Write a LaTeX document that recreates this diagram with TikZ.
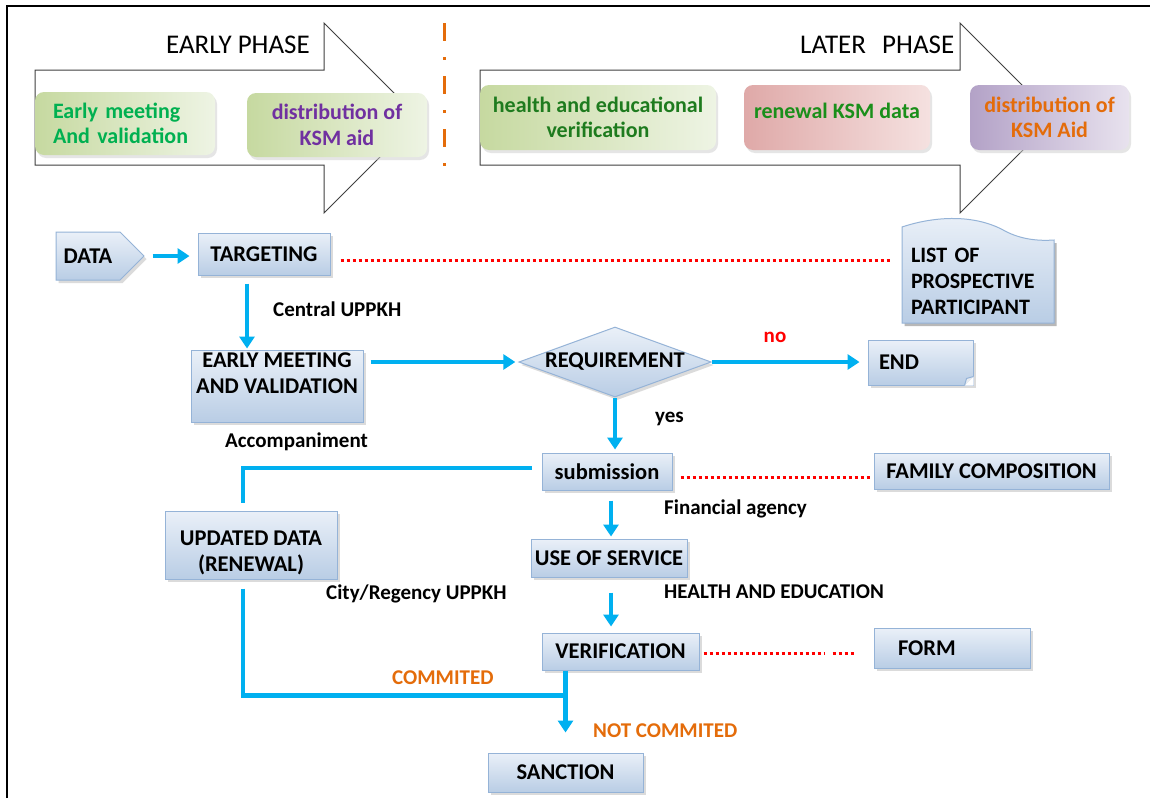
\documentclass[tikz,border=0pt]{standalone}
\usepackage{fontspec}
\setmainfont{Carlito}
\usetikzlibrary{arrows.meta,shapes.geometric,shapes.symbols,shadows,calc}
\definecolor{arrblue}{HTML}{00B0F0}
\definecolor{boxedge}{HTML}{95B3D7}
\definecolor{boxtop}{HTML}{EAF0F8}
\definecolor{boxbot}{HTML}{B9CDE5}
\definecolor{orng}{HTML}{E46C0A}
\definecolor{egreen}{HTML}{00B050}
\definecolor{dgreen}{HTML}{1E7B1E}
\definecolor{mgreen}{HTML}{1A8F1A}
\definecolor{purp}{HTML}{7030A0}
\definecolor{gA}{HTML}{C6D9A0}
\definecolor{gB}{HTML}{EEF4E4}
\definecolor{rA}{HTML}{DFA9A8}
\definecolor{rB}{HTML}{F5E1E0}
\definecolor{pA}{HTML}{B3A2C7}
\definecolor{pB}{HTML}{E8E2EE}
\begin{document}
\begin{tikzpicture}[x=1pt,y=-1pt,
  bx/.style={draw=boxedge, line width=1pt, top color=boxtop, bottom color=boxbot,
    drop shadow={shadow xshift=2.5pt, shadow yshift=-3pt, fill=black!28},
    font=\bfseries\fontsize{22.5}{26}\selectfont, inner sep=0pt},
  rbox/.style={rounded corners=9pt, draw=none,
    drop shadow={shadow xshift=2pt, shadow yshift=-3pt, fill=black!20},
    font=\bfseries\fontsize{22}{25.5}\selectfont, inner sep=0pt, align=center},
  lbl/.style={font=\bfseries\fontsize{21}{25}\selectfont, inner sep=0pt, anchor=west,
    text height=14pt, text depth=0pt},
  phs/.style={font=\fontsize{27}{32}\selectfont, inner sep=0pt, anchor=west,
    text height=17pt, text depth=0pt},
  phase/.style={draw=black!75, line width=1pt, fill=white},
  arr/.style={draw=arrblue, line width=4.5pt, -{Triangle[width=15pt,length=12pt]}},
  ln/.style={draw=arrblue, line width=4.5pt},
  dots/.style={draw=red, line width=3pt, dash pattern=on 3pt off 3pt},
  sepl/.style={draw=orng, line width=3pt, dash pattern=on 18pt off 16pt on 3pt off 16pt}
]
\useasboundingbox (0,0) rectangle (1153,798);
\fill[white] (0,0) rectangle (1153,798);
% frame
\draw[line width=2pt] (7,798) -- (7,6) -- (1150,6);

% phase arrows
\draw[phase] (35,70) -- (324,70) -- (324,23) -- (419,118) -- (324,213) -- (324,165) -- (35,165) -- cycle;
\draw[phase] (480,70) -- (960,70) -- (960,23) -- (1055,118) -- (960,213) -- (960,165) -- (480,165) -- cycle;
\draw[sepl] (444,23) -- (444,168);
\node[phs] (ep) at (166,45) {EARLY PHASE};
\node[phs] (lp) at (800,45) {LATER\hspace{0.6em}PHASE};

% phase boxes
\node[rbox, left color=gA, right color=gB, minimum width=180pt, minimum height=63pt,
  text width=144pt, inner xsep=18pt, align=left, text=egreen] (tb1) at (125,123.5) {Early meeting\\And validation};
\node[rbox, left color=gA, right color=gB, minimum width=180pt, minimum height=64pt, text=purp] (tb2) at (337,125) {distribution of\\KSM aid};
\node[rbox, left color=gA, right color=gB, minimum width=236pt, minimum height=65pt, text=dgreen] (tb3) at (598,117.5) {health and educational\\verification};
\node[rbox, left color=rA, right color=rB, minimum width=186pt, minimum height=65pt, text=mgreen, text depth=14pt] (tb4) at (837,117.5) {renewal KSM data};
\node[rbox, left color=pA, right color=pB, minimum width=159pt, minimum height=65pt, text=orng] (tb5) at (1049.5,117.5) {distribution of\\KSM Aid};

% list of prospective participant (wavy top)
\fill[black!28] (904.5,230) .. controls (937.5,219) and (977.5,217) .. (1007.5,234) .. controls (1024.5,243) and (1042.5,244) .. (1056.5,243) -- (1056.5,326) -- (904.5,326) -- cycle;
\path[draw=boxedge, line width=1pt, top color=boxtop, bottom color=boxbot]
  (902,227) .. controls (935,216) and (975,214) .. (1005,231) .. controls (1022,240) and (1040,241) .. (1054,240) -- (1054,323) -- (902,323) -- cycle;
\node[font=\bfseries\fontsize{22}{26}\selectfont, inner sep=0pt, text width=136pt, align=left, minimum height=84pt] (list) at (979,281) {LIST OF\\PROSPECTIVE\\PARTICIPANT};

% flow boxes
\node[bx, signal, signal to=east, signal pointer angle=90, minimum width=88pt, minimum height=48pt] (data) at (88,256) {DATA};
\node[bx, minimum width=132pt, minimum height=42pt] (tgt) at (264,254) {TARGETING};
\node[bx, minimum width=172pt, minimum height=72pt, align=center] (em) at (277,386) {EARLY MEETING\\AND VALIDATION\\\mbox{}};
\node[bx, diamond, aspect=3, minimum width=190pt, minimum height=70pt] (req) at (615,362) {REQUIREMENT};
\node[bx, minimum width=105pt, minimum height=45pt, text width=83pt, inner xsep=11pt, align=left] (end) at (920.5,362.5) {END};
\node[bx, minimum width=130pt, minimum height=37pt] (sub) at (607,471.5) {submission};
\node[bx, minimum width=235pt, minimum height=36pt] (fam) at (991.5,471) {FAMILY COMPOSITION};
\node[bx, minimum width=156pt, minimum height=38pt] (use) at (609,558) {USE OF SERVICE};
\node[bx, minimum width=157pt, minimum height=37pt] (ver) at (620.5,651.5) {VERIFICATION};
\node[bx, minimum width=156pt, minimum height=40pt, text width=108pt, inner xsep=24pt, align=left] (form) at (952,648) {FORM};
\node[bx, minimum width=172pt, minimum height=68pt, align=center, text height=56pt] (upd) at (251,545) {UPDATED DATA\\(RENEWAL)};
\node[bx, minimum width=155pt, minimum height=39pt] (sanc) at (565.5,772.5) {SANCTION};

% folded corner of END
\fill[white] (end.south east) -- ++(-9,0) -- ++(9,-9) -- cycle;
\draw[draw=boxedge, line width=1pt, fill=boxbot!80!black!20] ($(end.south east)+(-9,0)$) -- ($(end.south east)+(-7,-7)$) -- ($(end.south east)+(0,-9)$);

% labels
\node[lbl] (lc) at (273,309) {Central UPPKH};
\node[lbl] (la) at (225,440) {Accompaniment};
\node[lbl, anchor=center, text=red] (lno) at (775,335) {no};
\node[lbl] (lyes) at (655,415) {yes};
\node[lbl] (lfa) at (664,507) {Financial agency};
\node[lbl] (lhe) at (664,591) {HEALTH AND EDUCATION};
\node[lbl] (lcr) at (326,592) {City/Regency UPPKH};
\node[lbl, text=orng] (lcm) at (392,677) {COMMITED};
\node[lbl, text=orng] (lnc) at (593,730) {NOT COMMITED};

% connectors
\draw[arr, shorten <=8pt, shorten >=8pt] (data.east) -- (data.east -| tgt.west);
\draw[arr, shorten <=8pt, shorten >=1pt] ([xshift=-17pt]tgt.south) -- ([xshift=-17pt]tgt.south |- em.north);
\draw[arr, shorten <=7pt, shorten >=3pt] (req.west -| em.east) -- (req.west);
\draw[arr, shorten >=8pt] (req.east) -- (req.east -| end.west);
\draw[arr, shorten >=3pt] (req.south) -- (req.south |- sub.north);
\draw[arr, shorten <=10pt, shorten >=2pt] ([xshift=4pt]sub.south) -- ([xshift=4pt]sub.south |- use.north);
\draw[arr, shorten <=15pt, shorten >=6pt] ([xshift=2pt]use.south) -- ([xshift=2pt]use.south |- ver.north);
\coordinate (jn) at ($(ver.south -| sanc.north)+(0,25)$);
\draw[ln] ([xshift=-10pt,yshift=3.5pt]sub.west) -| ([xshift=-8pt,yshift=8pt]upd.north);
\draw[ln] ([xshift=-8pt,yshift=-9pt]upd.south) |- (jn);
\draw[arr, shorten >=20pt] (ver.south -| sanc.north) -- (sanc.north);

% dotted relations
\draw[dots] ($(tgt.east)+(10,6)$) -- ($(tgt.east -| list.west)+(-20,6)$);
\draw[dots] ($(sub.east)+(8,5.5)$) -- ($(sub.east -| fam.west)+(-4,5.5)$);
\draw[dots] ($(ver.east)+(4,1.5)$) -- ($(ver.east -| form.west)+(-49,1.5)$);
\draw[dots] ($(ver.east -| form.west)+(-41,1.5)$) -- ($(ver.east -| form.west)+(-19,1.5)$);
\end{tikzpicture}
\end{document}
